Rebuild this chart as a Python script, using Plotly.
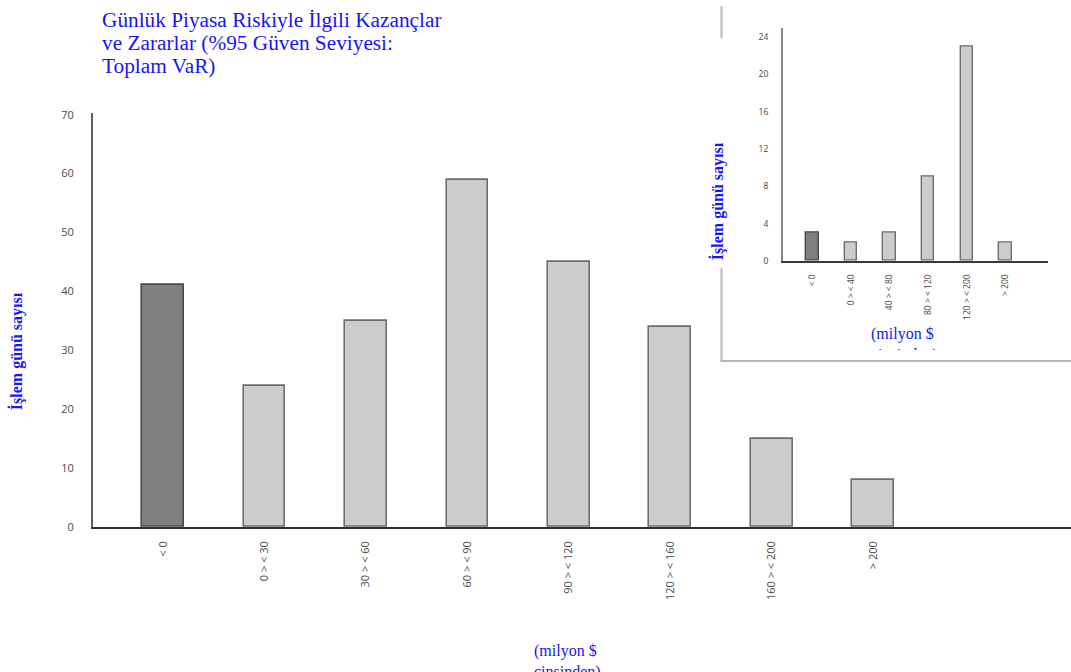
import plotly.graph_objects as go

W, H = 1071, 672

# Main histogram: daily trading revenue buckets (million $)
main_categories = ["< 0", "0 > < 30", "30 > < 60", "60 > < 90", "90 > < 120",
                   "120 > < 160", "160 > < 200", "> 200"]
main_days = [41, 24, 35, 59, 45, 34, 15, 8]
main_yticks = [0, 10, 20, 30, 40, 50, 60, 70]

# Inset histogram
inset_categories = ["< 0", "0 > < 40", "40 > < 80", "80 > < 120", "120 > < 200", "> 200"]
inset_days = [3, 2, 3, 9, 23, 2]
inset_yticks = [0, 4, 8, 12, 16, 20, 24]

title_lines = ["Günlük Piyasa Riskiyle İlgili Kazançlar",
               "ve Zararlar (%95 Güven Seviyesi:",
               "Toplam VaR)"]
y_title = "İşlem günü sayısı"
x_title = "(milyon $<br>cinsinden)"

BLUE = "#1616f5"
DARK_FILL, DARK_EDGE = "#7f7f7f", "#4a4a4a"
LIGHT_FILL, LIGHT_EDGE = "#cccccc", "#6e6e6e"
TICK_FONT = "Open Sans"
SERIF = "Liberation Serif"


def px(x):
    return x / W


def py(y):
    return 1 - y / H


def bar_colors(n):
    fills = [DARK_FILL] + [LIGHT_FILL] * (n - 1)
    edges = [DARK_EDGE] + [LIGHT_EDGE] * (n - 1)
    return fills, edges


fig = go.Figure()

f, e = bar_colors(len(main_days))
fig.add_trace(go.Bar(
    x=main_categories, y=main_days, width=0.41,
    marker=dict(color=f, line=dict(color=e, width=1.6)),
    xaxis="x", yaxis="y", showlegend=False, hoverinfo="x+y",
))

f, e = bar_colors(len(inset_days))
fig.add_trace(go.Bar(
    x=inset_categories, y=inset_days, width=0.32,
    marker=dict(color=f, line=dict(color=e, width=1.4)),
    xaxis="x2", yaxis="y2", showlegend=False, hoverinfo="x+y",
))

fig.update_layout(
    width=W, height=H, autosize=False,
    margin=dict(l=0, r=0, t=0, b=0),
    paper_bgcolor="white", plot_bgcolor="white",
    bargap=0,
    xaxis=dict(
        domain=[px(93), 1.0], anchor="y",
        type="category", range=[-0.69, 8.95],
        showline=True, linecolor="#2e2e2e", linewidth=2,
        showgrid=False, zeroline=False, ticks="",
        tickangle=-90, ticklabelstandoff=8,
        tickfont=dict(family=TICK_FONT, size=11, color="#4a4a4a"),
    ),
    yaxis=dict(
        domain=[py(531), py(109)], anchor="x",
        range=[0, 70.3],
        tickvals=main_yticks,
        showline=True, linecolor="#5e5e5e", linewidth=2,
        showgrid=False, zeroline=False, ticks="",
        ticklabelstandoff=15,
        tickfont=dict(family=TICK_FONT, size=11, color="#4a4a4a"),
    ),
    xaxis2=dict(
        domain=[px(783), px(1048)], anchor="y2",
        type="category", range=[-0.76, 6.1],
        showline=True, linecolor="#3a3a3a", linewidth=2,
        showgrid=False, zeroline=False, ticks="",
        tickangle=-90, ticklabelstandoff=8,
        tickfont=dict(family=TICK_FONT, size=8.5, color="#444444"),
    ),
    yaxis2=dict(
        domain=[py(260), py(22)], anchor="x2",
        range=[0, 25],
        tickvals=inset_yticks,
        showline=True, linecolor="#8a8a8a", linewidth=2,
        showgrid=False, zeroline=False, ticks="",
        ticklabelstandoff=11,
        tickfont=dict(family=TICK_FONT, size=8.5, color="#444444"),
    ),
)

annotations = []
# Title, one line per annotation for tighter leading
for i, line in enumerate(title_lines):
    annotations.append(dict(
        text=line, xref="paper", yref="paper",
        x=px(100), y=py(0 + 23.5 * i), xanchor="left", yanchor="top",
        showarrow=False, align="left",
        font=dict(family=SERIF, size=21.3, color=BLUE),
    ))

# Axis titles of the main chart
annotations.append(dict(
    text=f"<b>{y_title}</b>", xref="paper", yref="paper",
    x=px(16), y=py(352), xanchor="center", yanchor="middle",
    textangle=-90, showarrow=False,
    font=dict(family=SERIF, size=16, color=BLUE),
))
annotations.append(dict(
    text=x_title, xref="paper", yref="paper",
    x=px(567), y=py(646), xanchor="center", yanchor="top",
    showarrow=False, align="left",
    font=dict(family=SERIF, size=16, color=BLUE),
))

# Axis titles of the inset
annotations.append(dict(
    text=f"<b>{y_title}</b>", xref="paper", yref="paper",
    x=px(717), y=py(199), xanchor="center", yanchor="middle",
    textangle=-90, showarrow=False,
    font=dict(family=SERIF, size=16, color=BLUE),
))
annotations.append(dict(
    text=x_title, xref="paper", yref="paper",
    x=px(904), y=py(323), xanchor="center", yanchor="top",
    showarrow=False, align="left", valign="top", height=25,
    font=dict(family=SERIF, size=16, color=BLUE),
))
fig.update_layout(annotations=annotations)

# Frame around the inset (left edge is interrupted behind its axis title)
frame = dict(type="line", xref="paper", yref="paper",
             line=dict(color="#b8b8b8", width=2), layer="below")
fig.update_layout(shapes=[
    dict(frame, x0=px(721.5), x1=px(721.5), y0=py(0), y1=py(33)),
    dict(frame, x0=px(721.5), x1=px(721.5), y0=py(267), y1=py(362)),
    dict(frame, x0=px(720.5), x1=1.0, y0=py(362), y1=py(362)),
])

fig.write_html("out.html")
